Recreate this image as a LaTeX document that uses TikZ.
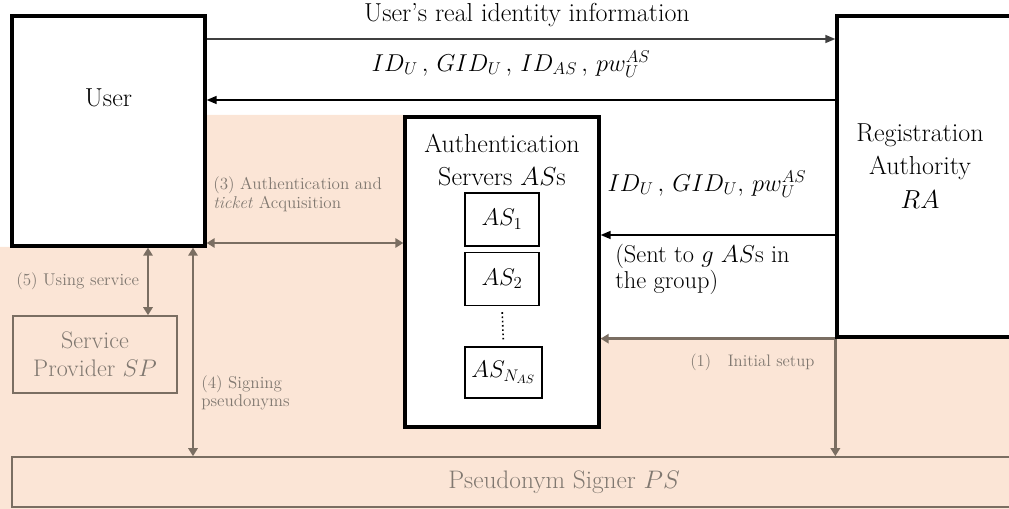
\RequirePackage{fix-cm}
\documentclass[tikz,border=0pt]{standalone}
\usepackage{fontspec}
\usepackage{xcolor}
\usetikzlibrary{arrows.meta, positioning}
\definecolor{peach}{RGB}{251,229,214}
\definecolor{flowbrown}{RGB}{122,110,98}
\definecolor{notegray}{RGB}{128,120,112}

\begin{document}
\begin{tikzpicture}[
        x=0.75pt, y=-0.75pt,
        >=Latex,
        party/.style={draw, line width=2.5pt, fill=white, inner sep=0pt},
        server/.style={draw, line width=1.1pt, fill=white, inner sep=0pt, minimum width=55.5pt, minimum height=39.75pt, font=\fontsize{18}{21}\selectfont},
        helper/.style={draw=flowbrown, line width=1.2pt, fill=peach, inner sep=0pt, text=notegray, align=center, font=\fontsize{18}{21}\selectfont},
        bigtext/.style={align=center, font=\fontsize{19.5}{25}\selectfont, inner sep=0pt},
        msgtext/.style={align=left, font=\fontsize{18.3}{19.5}\selectfont, inner sep=0pt},
        note/.style={align=left, text=notegray, font=\fontsize{12.8}{14}\selectfont, inner sep=0pt, anchor=west},
        msg/.style={line width=1.1pt, -{Triangle[length=7.5pt,width=6pt]}},
        ctl/.style={draw=flowbrown, line width=1.8pt, {Triangle[length=6pt,width=7pt]}-{Triangle[length=6pt,width=7pt]}},
        ctlone/.style={draw=flowbrown, line width=1.8pt, -{Triangle[length=6pt,width=7pt]}}
    ]
        \useasboundingbox (0,0) rectangle (1009,509);

        % shaded area
        \fill[peach] (0,509) -- (0,247) -- (205,247) -- (205,115) -- (405,115)
            -- (405,337) -- (1009,337) -- (1009,509) -- cycle;

        % parties
        \node[party, minimum width=144.75pt, minimum height=172.5pt] (user) at (108.5,131) {};
        \node[bigtext] (usertxt) at (108.5,98) {User};

        \node[party, minimum width=131.25pt, minimum height=240.75pt] (ra) at (924.5,176.5) {};
        \node[bigtext] (ratxt) at (920,166) {Registration\\Authority\\$RA$};

        \node[party, minimum width=145.5pt, minimum height=232.5pt] (as) at (502,272) {};
        \node[bigtext] (astxt) at (502,160) {Authentication\\Servers $AS$s};

        \node[server] (as1) at (502,219.5) {$AS_1$};
        \node[server] (as2) at (502,279) {$AS_2$};
        \node[server, minimum width=57.75pt, minimum height=38.25pt] (asn) at (503.5,372.5) {$AS_{N_{AS}}$};
        \draw[line width=1.2pt, dotted, shorten <=4.5pt, shorten >=5pt] (as2.south) -- (asn.north);

        \node[helper, minimum width=123pt, minimum height=57.75pt] (sp) at (95,354.5) {Service\\Provider $SP$};
        \node[helper, minimum width=828pt, minimum height=37.5pt, font=\fontsize{19}{21}\selectfont] (ps) at (564,482) {Pseudonym Signer $PS$};

        % rows and columns of the connectors
        \coordinate (rowreal) at (0,39);
        \coordinate (rowback) at (0,100);
        \coordinate (rowsend) at (0,235);
        \coordinate (rowauth) at (0,243);
        \coordinate (colsvc) at (148,0);
        \coordinate (colsign) at (193,0);

        % registration
        \draw[msg, draw=black!75] (user.east |- rowreal) -- (ra.west |- rowreal);
        \node[msgtext, font=\fontsize{19.5}{21}\selectfont] (realtxt) at (527,15) {User's real identity information};
        \draw[msg] (ra.west |- rowback) -- (user.east |- rowback);
        \node[msgtext] (backtxt) at (511,64) {$ID_U\,,\,GID_U\,,\,ID_{AS}\,,\,pw_U^{AS}$};

        \draw[msg] (ra.west |- rowsend) -- (as.east |- rowsend);
        \node[msgtext] (sendtxt) at (707,184) {$ID_U\,,\,GID_U,\,pw_U^{AS}$};
        \node[msgtext, anchor=west] (grouptxt) at (615,269) {(Sent to $g$ $AS$s in\\the group)};

        % initial setup
        \draw[ctlone] (ra.south west) -- (as.east |- ra.south west);
        \draw[ctlone] (ra.south west) -- (ra.south west |- ps.north);
        \node[note, font=\fontsize{12.5}{14}\selectfont] (setuptxt) at (690,362) {(1)\quad Initial setup};

        % user side
        \draw[ctl] (user.east |- rowauth) -- (as.west |- rowauth);
        \node[note] (authtxt) at (213,194) {(3) Authentication and\\\textit{ticket} Acquisition};
        \draw[ctl] (user.south -| colsvc) -- (sp.north -| colsvc);
        \node[note] (svctxt) at (16,281) {(5) Using service};
        \draw[ctl] (user.south -| colsign) -- (ps.north -| colsign);
        \node[note] (signtxt) at (201,393) {(4) Signing\\pseudonyms};
    \end{tikzpicture}
\end{document}
